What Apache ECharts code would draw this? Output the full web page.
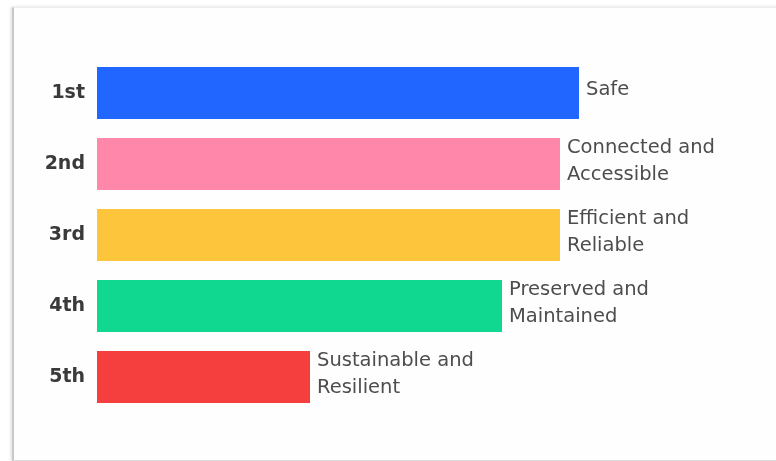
<!DOCTYPE html>
<html><head><meta charset="utf-8">
<script src="https://cdn.jsdelivr.net/npm/echarts@6/dist/echarts.min.js"></script>
<style>
html,body{margin:0;padding:0;background:#fff;width:776px;height:461px;overflow:hidden;}
#card{position:absolute;left:12px;top:7px;width:800px;height:452px;background:#fefefe;border-left:2px solid #c9c9c9;border-top:1px solid #ececec;border-bottom:1px solid #dcdcdc;box-shadow:-1px 0 3px rgba(0,0,0,0.15);}
#chart{position:absolute;left:0;top:0;width:776px;height:461px;}
</style></head>
<body>
<div id="card"></div>
<div id="chart"></div>
<script>
const categories = ['1st','2nd','3rd','4th','5th'];
const values = [96.4, 92.6, 92.6, 81, 42.6];
const barLabels = ['Safe','Connected and\nAccessible','Efficient and\nReliable','Preserved and\nMaintained','Sustainable and\nResilient'];
const colors = ['#2166ff','#ff87aa','#fdc53c','#10d891','#f53f3f'];

const chart = echarts.init(document.getElementById('chart'), null, {renderer:'canvas'});
chart.setOption({
  backgroundColor:'transparent',
  animation:false,
  grid:{left:97, top:57.5, width:500, height:355},
  xAxis:{type:'value', min:0, max:100, show:false},
  yAxis:{type:'category', data:categories, inverse:true,
    axisLine:{show:false}, axisTick:{show:false},
    axisLabel:{margin:12, fontSize:19, fontWeight:'bold', color:'#3a3a3a', fontFamily:'DejaVu Sans'}},
  series:[{
    type:'bar', barWidth:52,
    data: values.map((v,i)=>({value:v, itemStyle:{color:colors[i]},
      label:{formatter:barLabels[i]}})),
    label:{show:true, position:'right', distance:7, offset:[0,-3],
      fontSize:19.5, color:'#4d4d4d', lineHeight:27, fontFamily:'DejaVu Sans', align:'left'}
  }]
});
</script>
</body></html>
